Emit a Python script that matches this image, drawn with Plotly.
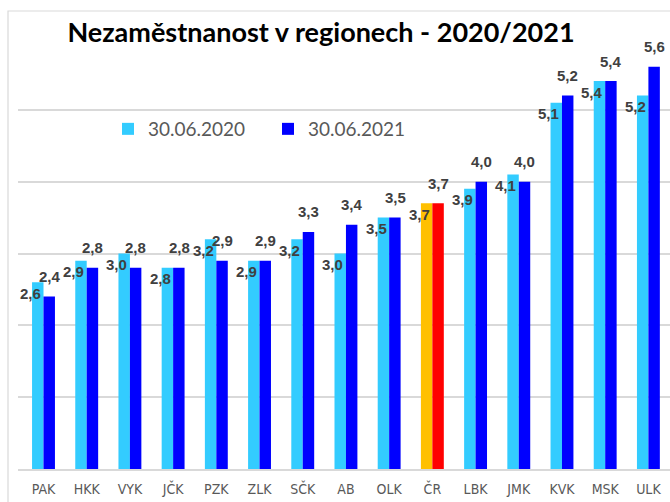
import plotly.graph_objects as go

regions = ["PAK", "HKK", "VYK", "JČK", "PZK", "ZLK", "SČK", "AB", "OLK", "ČR",
           "LBK", "JMK", "KVK", "MSK", "ULK"]
val_2020 = [2.6, 2.9, 3.0, 2.8, 3.2, 2.9, 3.2, 3.0, 3.5, 3.7, 3.9, 4.1, 5.1, 5.4, 5.2]
val_2021 = [2.4, 2.8, 2.8, 2.8, 2.9, 2.9, 3.3, 3.4, 3.5, 3.7, 4.0, 4.0, 5.2, 5.4, 5.6]
series_names = ["30.06.2020", "30.06.2021"]
title_text = "Nezaměstnanost v regionech - 2020/2021"
highlight = "ČR"

C2020, C2021 = "#33CCFF", "#0000FF"
H2020, H2021 = "#FFC000", "#FF0000"

col_2020 = [H2020 if r == highlight else C2020 for r in regions]
col_2021 = [H2021 if r == highlight else C2021 for r in regions]

W, H = 670, 502
ML, MR, MT, MB = 18, 0, 38, 33
plot_w = W - ML - MR
plot_h = H - MT - MB

fig = go.Figure()
fig.add_trace(go.Bar(x=regions, y=val_2020, name=series_names[0],
                     marker=dict(color=col_2020, line=dict(width=0))))
fig.add_trace(go.Bar(x=regions, y=val_2021, name=series_names[1],
                     marker=dict(color=col_2021, line=dict(width=0))))

def fmt(v):
    return f"{v:.1f}".replace(".", ",")

lab_font = dict(family="Liberation Sans, Arial, sans-serif", size=15, color="#404040")
annotations = []
for r, v in zip(regions, val_2020):
    annotations.append(dict(x=r, y=v, xref="x", yref="y", text=f"<b>{fmt(v)}</b>",
                            showarrow=False, xanchor="center", yanchor="middle",
                            xshift=-13, yshift=-11, font=lab_font))
for r, v in zip(regions, val_2021):
    annotations.append(dict(x=r, y=v, xref="x", yref="y", text=f"<b>{fmt(v)}</b>",
                            showarrow=False, xanchor="center", yanchor="middle",
                            xshift=6, yshift=20, font=lab_font))

bx0 = (8 - ML) / plot_w
by1 = (H - MB - 11) / plot_h

fig.update_layout(
    width=W, height=H,
    margin=dict(l=ML, r=MR, t=MT, b=MB, pad=0, autoexpand=False),
    paper_bgcolor="white", plot_bgcolor="white",
    barmode="group", bargap=0.47, bargroupgap=0,
    title=dict(text=f"<b>{title_text}</b>", x=321 / W, xanchor="center",
               y=1 - 33 / H, yanchor="middle", yref="container", xref="container",
               font=dict(family="Lato, sans-serif", size=27, color="#000000"),
               automargin=False),
    legend=dict(orientation="h", x=(108 - ML) / plot_w, xref="paper", xanchor="left",
                y=(H - MB - 129) / plot_h, yref="paper", yanchor="middle",
                entrywidth=115, entrywidthmode="pixels",
                font=dict(family="Lato, sans-serif", size=19, color="#595959"),
                bgcolor="rgba(0,0,0,0)"),
    xaxis=dict(showgrid=False, showline=True, linecolor="#D9D9D9", linewidth=1.5,
               ticks="", automargin=False, ticklabelstandoff=6,
               tickfont=dict(family="DejaVu Sans Condensed, Liberation Sans Narrow, Liberation Sans, sans-serif",
                             size=14, color="#595959")),
    yaxis=dict(range=[0, 6], dtick=1, showgrid=True, gridcolor="#D9D9D9", gridwidth=1.5,
               showticklabels=False, zeroline=False, showline=False, automargin=False),
    annotations=annotations,
    shapes=[dict(type="rect", xref="paper", yref="paper", x0=bx0, x1=1.2, y0=-0.3, y1=by1,
                 line=dict(color="#D9D9D9", width=1.2), fillcolor="rgba(0,0,0,0)", layer="below")],
    showlegend=True,
)

fig.write_html("out.html", config={"displayModeBar": False},
               post_script="document.body.style.margin='0';document.body.style.overflow='hidden';")
